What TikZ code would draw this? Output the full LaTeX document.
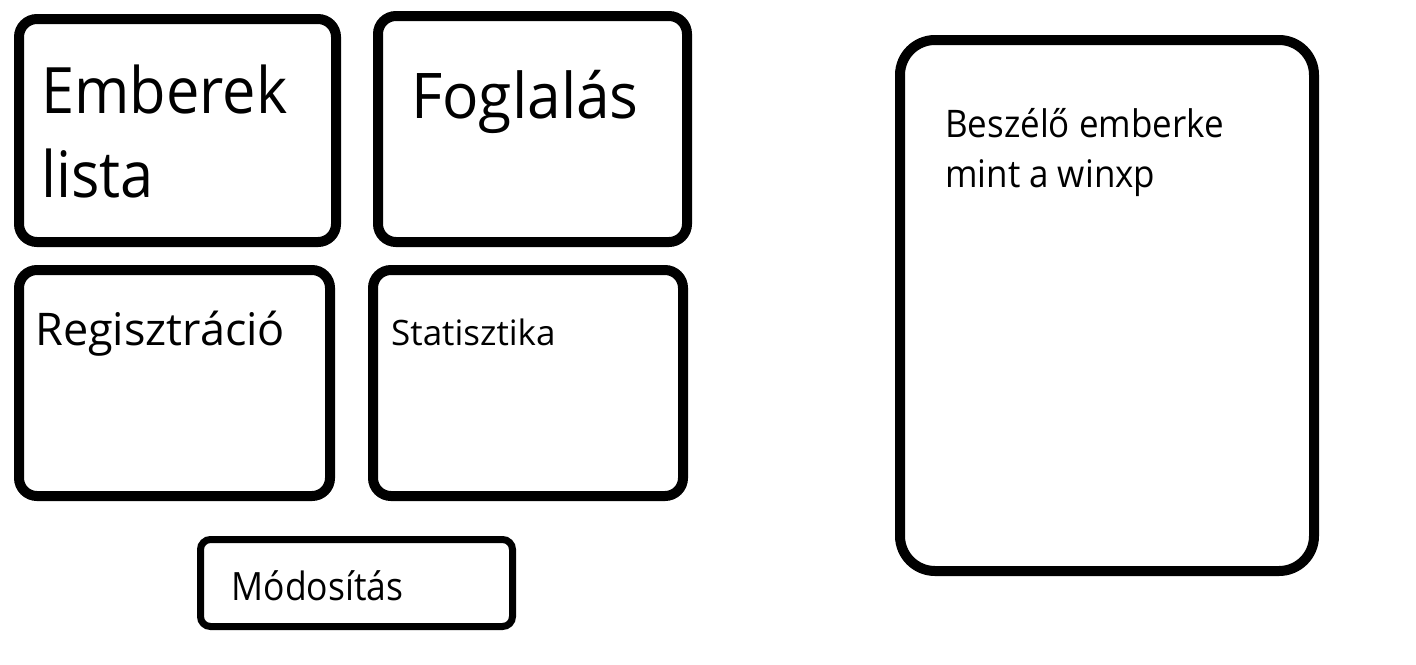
\documentclass[tikz,border=0pt]{standalone}
\usepackage{fontspec}
\setmainfont{Open Sans}
\usepackage{tikz}
\usetikzlibrary{calc}
\tikzset{
  card/.style={draw=black, line width=10pt, rounded corners=18pt, anchor=north west,
    inner sep=0pt, outer sep=0pt},
  lab/.style={anchor=base west, inner sep=0pt, text=black},
}

\begin{document}
\begin{tikzpicture}[x=1pt, y=-1pt]
  \useasboundingbox (0,0) rectangle (1416,664);

  % menu cards
  \node[card, minimum width=317pt, minimum height=223pt] (emb) at (19,19) {};
  \node[card, minimum width=309pt, minimum height=226pt] (fog) at (378,16) {};
  \node[card, minimum width=311pt, minimum height=226pt] (reg) at (19,270) {};
  \node[card, minimum width=310pt, minimum height=226pt] (stat) at (373,270) {};
  \node[card, line width=7pt, rounded corners=10pt, minimum width=312pt, minimum height=87pt] (mod) at (200.5,539.5) {};
  \node[card, rounded corners=35pt, minimum width=414pt, minimum height=531pt] (besz) at (900,40) {};

  \node[lab, font=\fontsize{64}{84}\selectfont] (embA) at ($(emb.north west)+(22,94)$) {\scalebox{0.93}[1]{Emberek}};
  \node[lab, font=\fontsize{64}{84}\selectfont] (embB) at ($(embA.base west)+(0,84)$) {\scalebox{0.93}[1]{lista}};
  \node[lab, font=\fontsize{63}{80}\selectfont] (fogA) at ($(fog.north west)+(33,102)$) {\scalebox{0.96}[1]{Foglalás}};
  \node[lab, font=\fontsize{45}{56}\selectfont] (regA) at ($(reg.north west)+(16,75)$) {Regisztráció};
  \node[lab, font=\fontsize{35}{44}\selectfont] (statA) at ($(stat.north west)+(18,75)$) {Statisztika};
  \node[lab, font=\fontsize{39}{48}\selectfont] (modA) at ($(mod.north west)+(31,61)$) {\scalebox{0.91}[1]{Módosítás}};

  % the talking helper
  \node[lab, font=\fontsize{38}{50}\selectfont] (beszA) at ($(besz.north west)+(45,97)$) {\scalebox{0.92}[1]{Beszélő emberke}};
  \node[lab, font=\fontsize{38}{50}\selectfont] (beszB) at ($(beszA.base west)+(0,50)$) {\scalebox{0.92}[1]{mint a winxp}};
\end{tikzpicture}
\end{document}
